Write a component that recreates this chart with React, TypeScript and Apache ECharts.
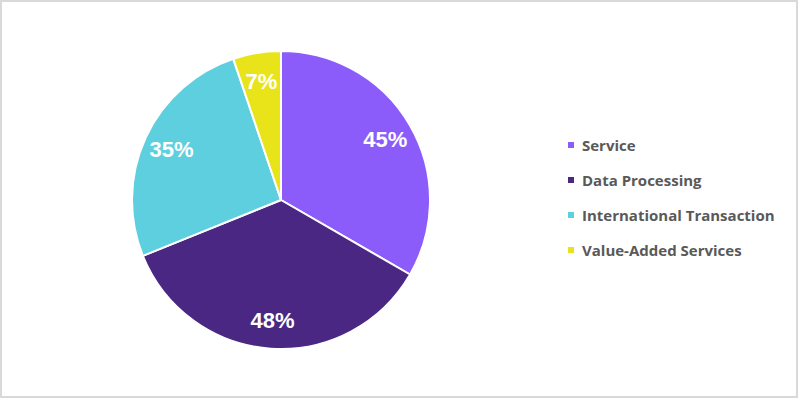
import React, { useEffect, useRef } from "react";
import * as echarts from "echarts";

const categories = ["Service", "Data Processing", "International Transaction", "Value-Added Services"];
const values = [45, 48, 35, 7];
const labels = ["45%", "48%", "35%", "7%"];
const colors = ["#8B5CFA", "#4A2783", "#5ECFDF", "#E9E41A"];

export default function App() {
  const ref = useRef<HTMLDivElement>(null);
  useEffect(() => {
    document.body.style.margin = "0";
    const chart = echarts.init(ref.current!, null, { renderer: "svg" });
    const data = categories.map((name, i) => ({ name, value: values[i], itemStyle: { color: colors[i] } }));
    chart.setOption({
      animation: false,
      legend: {
        orient: "vertical",
        left: 561,
        top: 130,
        itemWidth: 8,
        itemHeight: 8,
        itemGap: 15,
        icon: "rect",
        data: categories,
        textStyle: { color: "#595959", fontSize: 15, fontWeight: "bold", fontFamily: "Open Sans", lineHeight: 20, padding: [0, 0, 0, 2] },
      },
      series: [
        {
          type: "pie",
          center: [281, 200],
          radius: [0, 149],
          startAngle: 90,
          clockwise: true,
          label: { show: false },
          labelLine: { show: false },
          itemStyle: { borderColor: "#ffffff", borderWidth: 2 },
          emphasis: { disabled: true },
          data,
        },
        {
          type: "pie",
          center: [281, 200],
          radius: [86, 149],
          startAngle: 90,
          clockwise: true,
          silent: true,
          legendHoverLink: false,
          label: {
            show: true,
            position: "inside",
            color: "#ffffff",
            fontSize: 22,
            fontWeight: "bold",
            fontFamily: "Liberation Sans",
            formatter: (p: any) => labels[p.dataIndex],
          },
          labelLine: { show: false },
          itemStyle: { color: "transparent", borderWidth: 0 },
          emphasis: { disabled: true },
          data: categories.map((name, i) => ({ name: name + " ", value: values[i] })),
        },
      ],
    });
    return () => chart.dispose();
  }, []);
  return (
    <div
      style={{
        position: "absolute",
        left: 0,
        top: 0,
        width: 798,
        height: 398,
        boxSizing: "border-box",
        border: "2px solid #d9d9d9",
        background: "#fff",
      }}
    >
      <div ref={ref} style={{ position: "absolute", left: -2, top: -2, width: 798, height: 398 }} />
    </div>
  );
}
